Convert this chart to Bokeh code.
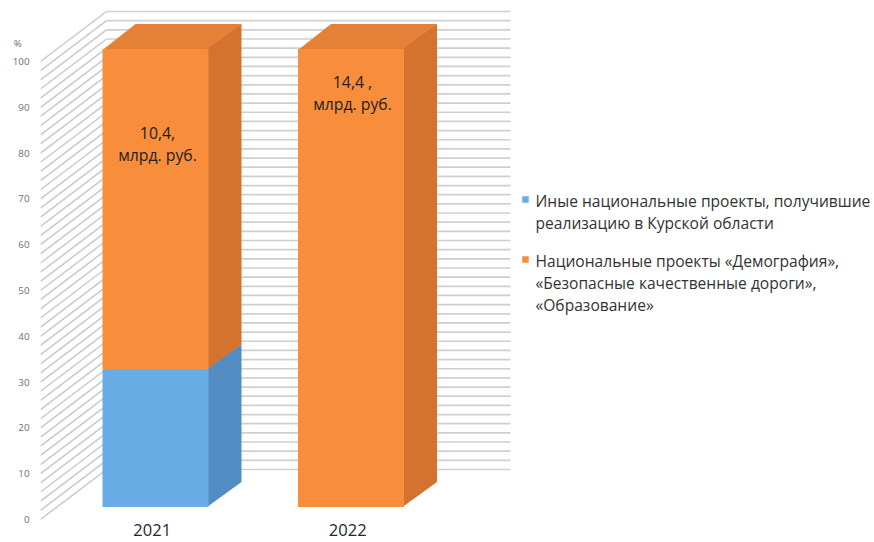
from bokeh.plotting import figure
from bokeh.models import Range1d, FixedTicker, ColumnDataSource
from bokeh.core.properties import value
from bokeh.embed import file_html
from bokeh.resources import INLINE

# ---------------- data ----------------
years = ["2021", "2022"]
other_share = [30, 0]        # Иные национальные проекты (blue)
main_share = [70, 100]       # НП «Демография», «БКД», «Образование» (orange)
bar_labels = ["10,4,\nмлрд. руб.", "14,4 ,\nмлрд. руб."]
series_names = [
    "Иные национальные проекты, получившие\nреализацию в Курской области",
    "Национальные проекты «Демография»,\n«Безопасные качественные дороги»,\n«Образование»",
]
y_ticks = list(range(0, 101, 10))
unit_label = "%"
grid_step = 2

# ---------------- layout / styling ----------------
W, H = 874, 542
LEFT = 40
PXX, PXY = 195.5, 4.58          # px per category unit, px per percent
Y0PX = 519                       # pixel row of value 0 (front plane)
x0 = 1 - (155 - LEFT) / PXX
x1 = x0 + (W - LEFT) / PXX
y0 = -(H - Y0PX) / PXY
y1 = Y0PX / PXY


def X(px):
    return x0 + (px - LEFT) / PXX


def Y(py):
    return (Y0PX - py) / PXY


DX = 66 / PXX                    # full depth offset (data units)
DY = 50 / PXY
HW = 53 / PXX                    # half width of bar
back_end = X(510)
FONT = "Open Sans"
SEAM = 1.5 / PXX

C_BLUE = ("#68ACE6", "#528CC3", "#5F9ED6")
C_ORNG = ("#F88D3C", "#D3732F", "#E68036")
COLORS = [C_BLUE, C_ORNG]

p = figure(width=W, height=H, x_range=Range1d(x0, x1), y_range=Range1d(y0, y1),
           output_backend="svg", toolbar_location=None, x_axis_location=None,
           min_border_left=LEFT, min_border_right=0, min_border_top=0, min_border_bottom=0)
p.grid.visible = False
p.outline_line_color = None
p.background_fill_color = "white"

# walls (gridlines)
gv = list(range(0, 101, grid_step))
p.multi_line([[x0, x0 + DX] for v in gv], [[v, v + DY] for v in gv],
             line_color="#c9c9c9", line_width=1.5)
p.multi_line([[x0 + DX, back_end] for v in gv], [[v + DY, v + DY] for v in gv],
             line_color="#cfcfcf", line_width=1.7)


# bars (pseudo-3D)
def faces(values_lo, values_hi):
    fr = dict(left=[], right=[], bottom=[], top=[])
    side_x, side_y, top_x, top_y = [], [], [], []
    d0, d1 = 0.25, 0.75
    for i, (lo, hi) in enumerate(zip(values_lo, values_hi)):
        if hi - lo <= 0:
            continue
        c = i + 1
        fr["left"].append(c - HW); fr["right"].append(c + HW)
        fr["bottom"].append(lo + d0 * DY); fr["top"].append(hi + d0 * DY)
        xr = c + HW
        side_x.append([xr - SEAM, xr + (d1 - d0) * DX, xr + (d1 - d0) * DX, xr - SEAM])
        side_y.append([lo + d0 * DY, lo + d1 * DY, hi + d1 * DY, hi + d0 * DY])
        top_x.append([c - HW, c + HW, c + HW + (d1 - d0) * DX, c - HW + (d1 - d0) * DX])
        top_y.append([hi + d0 * DY - 0.2, hi + d0 * DY - 0.2, hi + d1 * DY, hi + d1 * DY])
    return fr, side_x, side_y, top_x, top_y


lo_b = [0] * len(years)
hi_b = other_share
lo_o = other_share
hi_o = [a + b for a, b in zip(other_share, main_share)]

for (lo, hi, cols) in [(lo_b, hi_b, C_BLUE), (lo_o, hi_o, C_ORNG)]:
    fr, sx, sy, tx, ty = faces(lo, hi)
    p.patches(tx, ty, fill_color=cols[2], line_color=None)
    p.patches(sx, sy, fill_color=cols[1], line_color=None)
    p.quad(source=ColumnDataSource(fr), left="left", right="right", bottom="bottom", top="top",
           fill_color=cols[0], line_color=None)

# labels inside bars (one text per line)
lab_pos = [(157, 132), (352, 81)]
LINE = 22.5
lx, ly, lt = [], [], []
for (px, py), lab in zip(lab_pos, bar_labels):
    for k, line in enumerate(lab.split("\n")):
        lx.append(X(px)); ly.append(Y(py + k * LINE)); lt.append(line)
p.text(x=lx, y=ly, text=lt, text_align="center", text_baseline="middle",
       text_font=value(FONT), text_font_size="15.8px", text_color="#1f1f1f")

# category labels
p.text(x=[i + 1 - 0.05 * DX for i in range(len(years))], y=[Y(529)] * len(years), text=years,
       text_align="center", text_baseline="middle",
       text_font=value(FONT), text_font_size="16.5px", text_color="#262626")

# legend (square marker + wrapped label lines)
leg_pos = [(525, 199), (525, 259)]
LLINE = 22.3
gx, gy, gc = [], [], []
tx_, ty_, tt_ = [], [], []
for (px, py), name, cols in zip(leg_pos, series_names, COLORS):
    gx.append(X(px)); gy.append(Y(py)); gc.append(cols[0])
    for k, line in enumerate(name.split("\n")):
        tx_.append(X(535)); ty_.append(Y(py + 1 + k * LLINE)); tt_.append(line)
p.scatter(x=gx, y=gy, marker="square", size=6.5, fill_color=gc, line_color=None)
p.text(x=tx_, y=ty_, text=tt_, text_align="left", text_baseline="middle",
       text_font=value(FONT), text_font_size="15.6px", text_color="#333333")

# y axis
ax = p.yaxis[0]
UNIT_TICK = 104
ax.ticker = FixedTicker(ticks=y_ticks + [UNIT_TICK])
ax.major_label_overrides = {UNIT_TICK: unit_label + "\u00a0\u00a0\u00a0"}
ax.axis_line_color = None
ax.major_tick_line_color = None
ax.minor_tick_line_color = None
ax.major_tick_out = 0
ax.major_tick_in = 0
ax.major_label_standoff = 11
ax.major_label_text_font = FONT
ax.major_label_text_font_size = "9.8px"
ax.major_label_text_color = "#6e6e6e"

open("out.html", "w").write(file_html(p, INLINE))
